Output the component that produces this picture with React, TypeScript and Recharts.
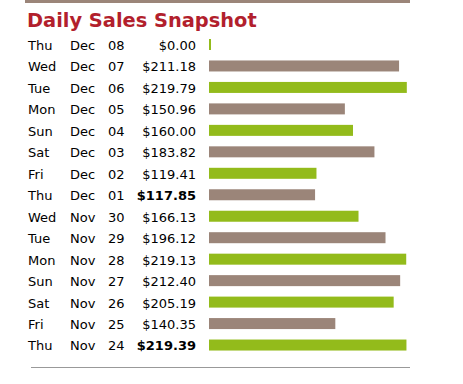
import React from "react";
import { BarChart, Bar, XAxis, YAxis, Cell } from "recharts";

const weekdays = ["Thu", "Wed", "Tue", "Mon", "Sun", "Sat", "Fri", "Thu", "Wed", "Tue", "Mon", "Sun", "Sat", "Fri", "Thu"];
const months = ["Dec", "Dec", "Dec", "Dec", "Dec", "Dec", "Dec", "Dec", "Nov", "Nov", "Nov", "Nov", "Nov", "Nov", "Nov"];
const days = ["08", "07", "06", "05", "04", "03", "02", "01", "30", "29", "28", "27", "26", "25", "24"];
const sales = [0.0, 211.18, 219.79, 150.96, 160.0, 183.82, 119.41, 117.85, 166.13, 196.12, 219.13, 212.4, 205.19, 140.35, 219.39];
const boldRows = [7, 14];

const GREEN = "#93bb1b";
const BROWN = "#9b8579";
const RED = "#b21f2d";
const FONT = "'DejaVu Sans', Verdana, sans-serif";

const data = sales.map((v, i) => ({
  key: `r${i}`,
  idx: i,
  weekday: weekdays[i],
  month: months[i],
  day: days[i],
  value: v,
}));

const RowTick = (props: any) => {
  const { y, payload } = props;
  const i = data.findIndex((d) => d.key === payload.value);
  const d = data[i];
  const bold = boldRows.includes(i);
  return (
    <g fontFamily={FONT} fontSize={13} fill="#000">
      <text x={28} y={y} dy="0.4em" textAnchor="start">{d.weekday}</text>
      <text x={70} y={y} dy="0.4em" textAnchor="start">{d.month}</text>
      <text x={108} y={y} dy="0.4em" textAnchor="start">{d.day}</text>
      <text x={196} y={y} dy="0.4em" textAnchor="end" fontWeight={bold ? "bold" : "normal"}>
        {"$" + d.value.toFixed(2)}
      </text>
    </g>
  );
};

const BarShape = (props: any) => {
  const { x, y, width, height, fill } = props;
  return <rect x={x} y={y} width={Math.max(width, 2)} height={height} fill={fill} />;
};

export default function App() {
  return (
    <div style={{ position: "absolute", left: 0, top: 0, width: 463, height: 384, background: "#fff" }}>
      <BarChart
        width={463}
        height={384}
        data={data}
        layout="vertical"
        margin={{ top: 34, right: 56, bottom: 28, left: 0 }}
        barSize={11}
      >
        <XAxis type="number" domain={[0, 220]} hide />
        <YAxis
          type="category"
          dataKey="key"
          width={209}
          axisLine={false}
          tickLine={false}
          interval={0}
          tick={<RowTick />}
        />
        <Bar dataKey="value" isAnimationActive={false} shape={<BarShape />}>
          {data.map((d, i) => (
            <Cell key={d.key} fill={i % 2 === 0 ? GREEN : BROWN} />
          ))}
        </Bar>
      </BarChart>
      <svg width={463} height={384} style={{ position: "absolute", left: 0, top: 0, pointerEvents: "none" }}>
        <rect x={25} y={0} width={385} height={3} fill={BROWN} />
        <text x={27} y={27} fontFamily={FONT} fontSize={19.4} fontWeight="bold" fill={RED}>
          Daily Sales Snapshot
        </text>
        <rect x={31} y={367} width={379} height={1} fill="#999" />
      </svg>
    </div>
  );
}
